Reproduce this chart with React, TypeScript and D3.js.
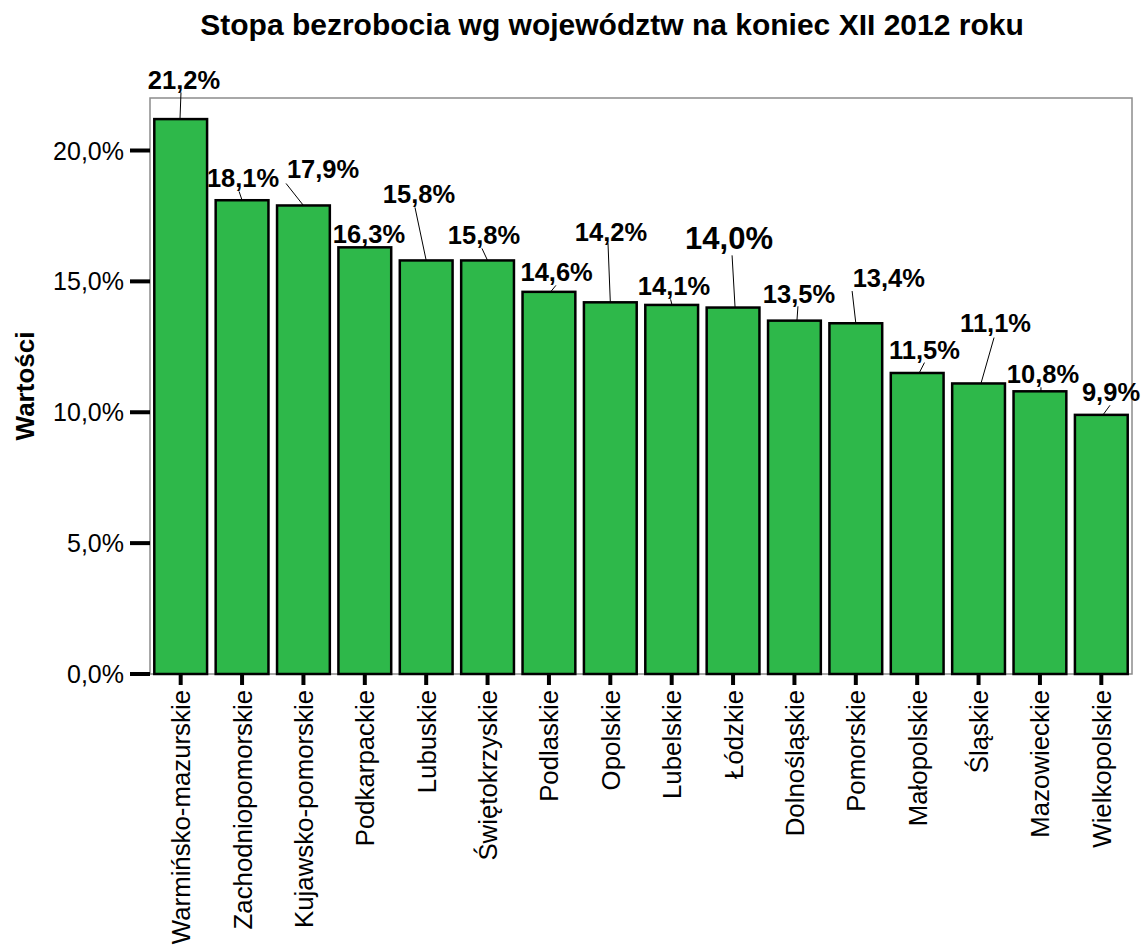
import React from "react";
import * as d3 from "d3";

const categories = [
  "Warmińsko-mazurskie",
  "Zachodniopomorskie",
  "Kujawsko-pomorskie",
  "Podkarpackie",
  "Lubuskie",
  "Świętokrzyskie",
  "Podlaskie",
  "Opolskie",
  "Lubelskie",
  "Łódzkie",
  "Dolnośląskie",
  "Pomorskie",
  "Małopolskie",
  "Śląskie",
  "Mazowieckie",
  "Wielkopolskie",
];
const values = [21.2, 18.1, 17.9, 16.3, 15.8, 15.8, 14.6, 14.2, 14.1, 14.0, 13.5, 13.4, 11.5, 11.1, 10.8, 9.9];
const yTicks = [0, 5, 10, 15, 20];
const titleText = "Stopa bezrobocia wg województw na koniec XII 2012 roku";
const yTitle = "Wartości";

// label layout: offset of label (center, baseline) from bar (center, top)
const labelOffsets: [number, number][] = [
  [3.3, -29.6], [1, -12.8], [19.6, -27], [4.2, -3.9], [-7.2, -57], [-3.6, -16],
  [7.7, -10.5], [0.7, -61.3], [2.3, -9.6], [-4, -58.2], [4.5, -17.3], [33, -36.2],
  [7.3, -13.7], [17, -51.5], [3, -8], [9.7, -13.6],
];
// leader line: start offset from label (center, baseline); end x offset from bar center
const leaderStart: [number, number][] = [
  [-3, 3], [-4, 4], [-37, 5], [-2, 4], [-4, 4], [-2, 4], [-0.7, 4], [-3, 2.3],
  [-3.4, 4], [3, 6], [-1, 3], [-36.7, 4], [0, 3.3], [-1.5, 5.6], [-2, 4], [-1, 4],
];
const leaderEndDx = [-0.7, 0, 0, 3, 0, 0, 1.7, 0, 0.3, 2, 2.5, 0, 2, 2.4, 1, 1.7];
const bigLabelIndex = 9;

const W = 1145;
const H = 945;
const plot = { left: 150, right: 1132, top: 98, bottom: 674 };
const FONT = "'Liberation Sans', Arial, Helvetica, sans-serif";
const GREEN = "#2eb84a";

const fmt = (v: number) => v.toFixed(1).replace(".", ",") + "%";

export default function App() {
  const x = d3
    .scaleBand<string>()
    .domain(categories)
    .range([plot.left, plot.right])
    .paddingInner(0.14)
    .paddingOuter(0.07);
  const y = d3.scaleLinear().domain([0, 20]).range([plot.bottom, 150.5]);

  return (
    <div style={{ position: "absolute", left: 0, top: 0 }}>
      <svg width={W} height={H} style={{ display: "block", background: "#fff" }} fontFamily={FONT}>
        <rect x={0} y={0} width={W} height={H} fill="#fff" />
        <text x={612} y={35} textAnchor="middle" fontWeight="bold" fontSize={30} fill="#000">
          {titleText}
        </text>

        {/* frame */}
        <rect
          x={plot.left}
          y={plot.top}
          width={plot.right - plot.left}
          height={plot.bottom - plot.top}
          fill="none"
          stroke="#8c8c8c"
          strokeWidth={1.5}
        />

        {/* bars */}
        {categories.map((c, i) => {
          const x0 = x(c)!;
          const yt = y(values[i]);
          return (
            <rect
              key={c}
              x={x0}
              y={yt}
              width={x.bandwidth()}
              height={y(0) - yt}
              fill={GREEN}
              stroke="#000"
              strokeWidth={2.5}
            />
          );
        })}

        {/* y axis ticks */}
        {yTicks.map((t) => (
          <g key={t}>
            <line x1={130} x2={plot.left} y1={y(t)} y2={y(t)} stroke="#000" strokeWidth={4} />
            <text x={124} y={y(t)} dy="0.36em" textAnchor="end" fontSize={25} fill="#000">
              {fmt(t)}
            </text>
          </g>
        ))}
        <text
          transform={`translate(34, 386) rotate(-90)`}
          textAnchor="middle"
          fontWeight="bold"
          fontSize={26}
          fill="#000"
        >
          {yTitle}
        </text>

        {/* x axis ticks & labels */}
        {categories.map((c) => {
          const cx = x(c)! + x.bandwidth() / 2;
          return (
            <g key={c}>
              <line x1={cx} x2={cx} y1={plot.bottom} y2={685} stroke="#000" strokeWidth={4} />
              <text
                transform={`translate(${cx + 9.5}, 690) rotate(-90)`}
                textAnchor="end"
                fontSize={25.8}
                fill="#000"
              >
                {c}
              </text>
            </g>
          );
        })}

        {/* value labels with leaders */}
        {categories.map((c, i) => {
          const cx = x(c)! + x.bandwidth() / 2;
          const top = y(values[i]);
          const lx = cx + labelOffsets[i][0];
          const ly = top + labelOffsets[i][1];
          const sx = lx + leaderStart[i][0];
          const sy = ly + leaderStart[i][1];
          const ex = cx + leaderEndDx[i];
          return (
            <g key={c}>
              <line x1={sx} y1={sy} x2={ex} y2={top} stroke="#000" strokeWidth={1} />
              <text
                x={lx}
                y={ly}
                textAnchor="middle"
                fontWeight="bold"
                fontSize={i === bigLabelIndex ? 31 : 25.5}
                fill="#000"
              >
                {fmt(values[i])}
              </text>
            </g>
          );
        })}
      </svg>
    </div>
  );
}
